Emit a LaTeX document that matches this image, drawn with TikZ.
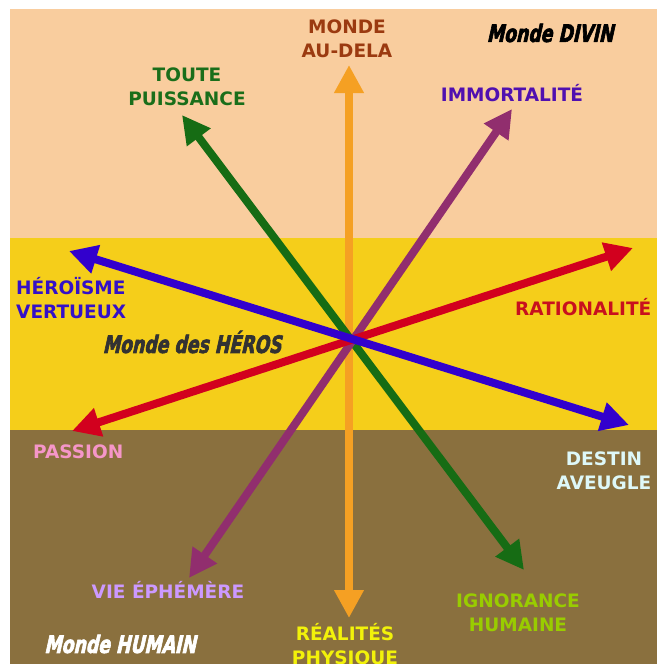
\documentclass[tikz,border=0pt]{standalone}
\usepackage{fontspec}
\usetikzlibrary{arrows.meta}
\setmainfont{DejaVu Sans}
\newfontfamily\labelfont{DejaVu Sans Bold}
\newfontfamily\worldfont{DejaVu Sans Condensed Bold}[FakeStretch=0.8,FakeSlant=0.22,FakeBold=2.5]

\definecolor{skyband}{RGB}{249,205,158}
\definecolor{heroband}{RGB}{245,206,26}
\definecolor{earthband}{RGB}{138,112,62}
\definecolor{arOrange}{RGB}{245,160,35}
\definecolor{arGreen}{RGB}{22,108,20}
\definecolor{arPurple}{RGB}{145,46,110}
\definecolor{arBlue}{RGB}{50,0,205}
\definecolor{arRed}{RGB}{210,0,30}
\definecolor{txBrown}{RGB}{155,58,16}
\definecolor{txGreen}{RGB}{26,110,26}
\definecolor{txViolet}{RGB}{80,16,176}
\definecolor{txBlue}{RGB}{52,16,200}
\definecolor{txRed}{RGB}{200,16,30}
\definecolor{txPink}{RGB}{245,150,200}
\definecolor{txCyan}{RGB}{222,248,248}
\definecolor{txLilac}{RGB}{204,153,255}
\definecolor{txYellow}{RGB}{242,242,10}
\definecolor{txLime}{RGB}{153,204,0}
\definecolor{txDark}{RGB}{50,50,50}

\tikzset{
  axis/.style={line width=8pt, {Triangle[length=28pt,width=28pt]}-{Triangle[length=28pt,width=28pt]}},
  pole/.style={font=\labelfont\fontsize{18.5}{24}\selectfont, align=center, inner sep=0pt},
  world/.style={font=\worldfont\fontsize{24}{26}\selectfont, inner sep=0pt},
}

\begin{document}
\begin{tikzpicture}[x=1pt,y=-1pt]
\useasboundingbox (0,0) rectangle (657,664);
% three horizontal bands
\fill[white] (0,0) rectangle (657,664);
\fill[skyband] (10,9) rectangle (657,238);
\fill[heroband] (10,238) rectangle (657,430);
\fill[earthband] (10,430) rectangle (657,664);

% arrow end points
\coordinate (auDela) at (349,65);
\coordinate (realites) at (349,618);
\coordinate (toute) at (182,115);
\coordinate (ignorance) at (524,570);
\coordinate (immortel) at (512,109);
\coordinate (ephemere) at (189,578);
\coordinate (heroisme) at (69,251);
\coordinate (destin) at (629,425);
\coordinate (raison) at (633,248);
\coordinate (passion) at (72,431);

\draw[axis, arOrange] (auDela) -- (realites);
\draw[axis, arGreen] (toute) -- (ignorance);
\draw[axis, arPurple] (immortel) -- (ephemere);
\draw[axis, arRed] (raison) -- (passion);
\draw[axis, arBlue] (heroisme) -- (destin);

% pole labels
\node[pole, txBrown] (lAuDela) at (347,39) {MONDE\\AU-DELA};
\node[pole, txGreen] (lToute) at (187,87) {TOUTE\\PUISSANCE};
\node[pole, txViolet] (lImmortel) at (512,93) {IMMORTALITÉ};
\node[pole, txBlue, align=left, anchor=west] (lHeroisme) at (16,298) {HÉROÏSME\\VERTUEUX};
\node[pole, txRed, anchor=west] (lRaison) at (515,307) {RATIONALITÉ};
\node[pole, txPink, anchor=west] (lPassion) at (33,452) {PASSION};
\node[pole, txCyan] (lDestin) at (604,471) {DESTIN\\AVEUGLE};
\node[pole, txLilac] (lEphemere) at (168,590) {VIE ÉPHÉMÈRE};
\node[pole, txYellow] (lRealites) at (345,645) {RÉALITÉS\\PHYSIQUE};
\node[pole, txLime] (lIgnorance) at (518,613) {IGNORANCE\\HUMAINE};

% world names
\node[world, black] (wDivin) at (550,33) {Monde DIVIN};
\node[world, txDark] (wHeros) at (192,342) {Monde des HÉROS};
\node[world, white] (wHumain) at (120,644) {Monde HUMAIN};
\end{tikzpicture}
\end{document}
